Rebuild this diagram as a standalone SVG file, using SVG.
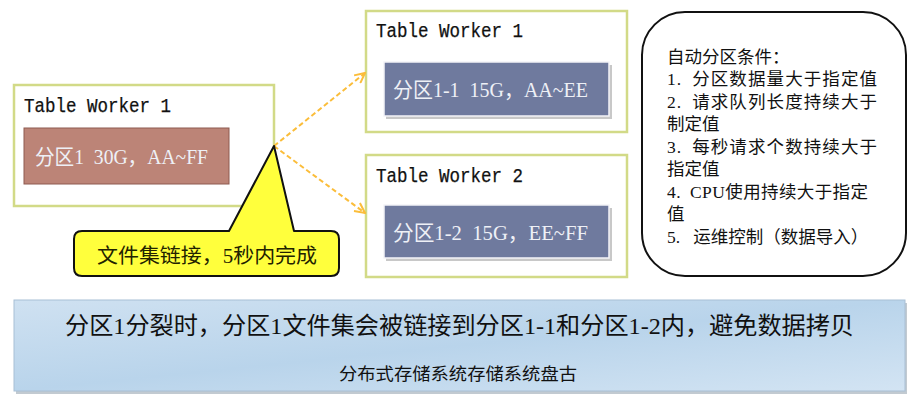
<svg xmlns="http://www.w3.org/2000/svg" width="917" height="404" viewBox="0 0 917 404">
<defs>
<style>
.wk{fill:#ffffff;stroke:#d2da87;stroke-width:2.5}
.lbl{font-family:"Liberation Mono","DejaVu Sans Mono",monospace;font-size:20px;fill:#111;stroke:#111;stroke-width:0.25}
.cjk{font-family:"Liberation Serif","Noto Sans CJK SC",serif}
.part{font-size:21px;fill:#eef0f6}
.blue{fill:#6f7a9e;stroke:#f4f4f8;stroke-width:1.5}
.shadow{fill:#9a9a9a;opacity:0.55}
.cond{font-size:17.5px;fill:#111}
.conn{fill:none;stroke:#fbbd3a;stroke-width:2;stroke-dasharray:5 3}
</style>
<marker id="ah" viewBox="0 0 12 12" refX="11" refY="6" markerWidth="12" markerHeight="12" markerUnits="userSpaceOnUse" orient="auto">
<path d="M1,1 L11,6 L1,11" fill="none" stroke="#fbbd3a" stroke-width="2"/>
</marker>
<linearGradient id="bg" x1="0" y1="0" x2="1" y2="1">
<stop offset="0" stop-color="#cfe1f1"/>
<stop offset="0.5" stop-color="#b9d4eb"/>
<stop offset="1" stop-color="#d3e4f3"/>
</linearGradient>
</defs>
<rect width="917" height="404" fill="#ffffff"/>

<g id="storage">
<rect x="16" y="303" width="891" height="91" fill="#9aa6b2" opacity="0.6"/>
<rect x="14" y="300" width="891" height="91" fill="url(#bg)" stroke="#a8bfd5" stroke-width="1"/>
<text class="cjk" x="65" y="334" font-size="24" fill="#111" textLength="789" lengthAdjust="spacingAndGlyphs">分区1分裂时，分区1文件集会被链接到分区1-1和分区1-2内，避免数据拷贝</text>
<text class="cjk" x="339" y="380" font-size="17.5" fill="#111" textLength="238" lengthAdjust="spacingAndGlyphs">分布式存储系统存储系统盘古</text>
</g>

<g id="worker-left">
<rect class="wk" x="14" y="85" width="260" height="121"/>
<text class="lbl" x="24" y="112" textLength="147" lengthAdjust="spacingAndGlyphs">Table Worker 1</text>
<rect x="24" y="128" width="205" height="56" fill="#bc8477" stroke="#8e5a51" stroke-width="1"/>
<text class="cjk part" x="35" y="164" fill="#f6ecea" textLength="173" lengthAdjust="spacingAndGlyphs">分区1&#8194;30G，AA~FF</text>
</g>

<g id="worker-right-1">
<rect class="wk" x="366" y="11" width="261" height="121"/>
<text class="lbl" x="376" y="37" textLength="147" lengthAdjust="spacingAndGlyphs">Table Worker 1</text>
<rect class="shadow" x="386" y="65" width="226" height="54"/>
<rect class="blue" x="384" y="62" width="225" height="54"/>
<text class="cjk part" x="393" y="97" textLength="195" lengthAdjust="spacingAndGlyphs">分区1-1&#8194;15G，AA~EE</text>
</g>

<g id="worker-right-2">
<rect class="wk" x="366" y="155" width="261" height="122"/>
<text class="lbl" x="376" y="182" textLength="147" lengthAdjust="spacingAndGlyphs">Table Worker 2</text>
<rect class="shadow" x="386" y="208" width="226" height="53"/>
<rect class="blue" x="384" y="205" width="225" height="53"/>
<text class="cjk part" x="393" y="240" textLength="195" lengthAdjust="spacingAndGlyphs">分区1-2&#8194;15G，EE~FF</text>
</g>

<g id="connectors">
<path class="conn" d="M274,146 L365,73" marker-end="url(#ah)"/>
<path class="conn" d="M274,146 L365,213" marker-end="url(#ah)"/>
</g>

<g id="callout">
<path d="M82,231 L229,231 L274,146 L294,231 L331,231 Q339,231 339,239 L339,268 Q339,276 331,276 L82,276 Q74,276 74,268 L74,239 Q74,231 82,231 Z" fill="#ffff3c" stroke="#111" stroke-width="2" stroke-linejoin="round"/>
<text class="cjk" x="97" y="263" font-size="20" fill="#222200" textLength="220" lengthAdjust="spacingAndGlyphs">文件集链接，5秒内完成</text>
</g>

<g id="conditions">
<rect x="642" y="12" width="264" height="264" rx="43" ry="43" fill="#ffffff" stroke="#111" stroke-width="2"/>
<text class="cjk cond" x="667" y="62.5">自动分区条件：</text>
<text class="cjk cond" x="667" y="85" textLength="210" lengthAdjust="spacing">1.&#8194;分区数据量大于指定值</text>
<text class="cjk cond" x="667" y="107.5" textLength="210" lengthAdjust="spacing">2.&#8194;请求队列长度持续大于</text>
<text class="cjk cond" x="667" y="130">制定值</text>
<text class="cjk cond" x="667" y="152.5" textLength="210" lengthAdjust="spacing">3.&#8194;每秒请求个数持续大于</text>
<text class="cjk cond" x="667" y="175">指定值</text>
<text class="cjk cond" x="667" y="197.5" textLength="201" lengthAdjust="spacing">4.&#8194;CPU使用持续大于指定</text>
<text class="cjk cond" x="667" y="220">值</text>
<text class="cjk cond" x="667" y="242.5">5.&#8194; 运维控制（数据导入）</text>
</g>
</svg>
